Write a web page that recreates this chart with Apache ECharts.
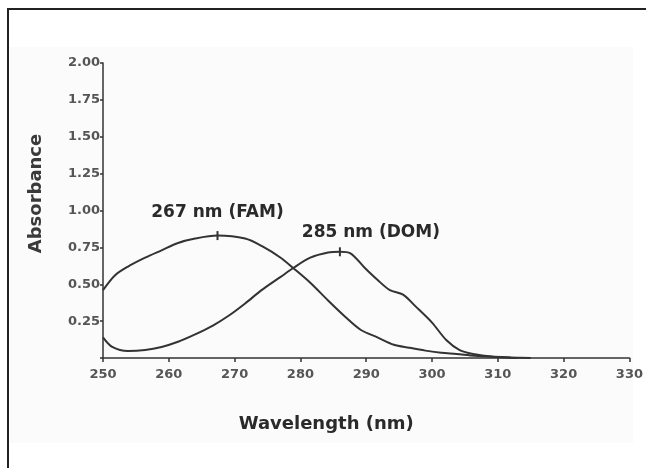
<!DOCTYPE html>
<html><head><meta charset="utf-8">
<script src="https://cdn.jsdelivr.net/npm/echarts@6/dist/echarts.min.js"></script>
<style>html,body{margin:0;padding:0;background:#fff}#c{width:646px;height:468px}</style>
</head><body><div id="c"></div>
<script>
// Wavelength (nm) and absorbance values
const famWavelength = [250, 251.8, 253.8, 256.4, 258.9, 261.4, 264.0, 267.4, 271.6, 274.1, 277.0, 278.9, 281.5, 284.2, 286.8, 289.2, 291.7, 294.2, 296.5, 299.0, 301.4, 303.7, 306.5, 310, 313];
const famAbsorbance = [0.46, 0.56, 0.62, 0.68, 0.73, 0.78, 0.81, 0.83, 0.81, 0.76, 0.68, 0.61, 0.51, 0.39, 0.28, 0.19, 0.14, 0.09, 0.07, 0.05, 0.035, 0.027, 0.015, 0.006, 0.0];
const domWavelength = [250, 251.4, 253.8, 256.4, 258.9, 261.4, 264.0, 266.7, 269.2, 271.6, 274.1, 277.0, 278.9, 281.5, 284.2, 286.0, 287.6, 289.8, 291.7, 293.6, 295.6, 297.5, 300.0, 302.2, 304.2, 306.5, 309, 312, 315];
const domAbsorbance = [0.14, 0.075, 0.047, 0.054, 0.075, 0.11, 0.16, 0.22, 0.29, 0.37, 0.46, 0.55, 0.61, 0.68, 0.715, 0.72, 0.71, 0.61, 0.53, 0.46, 0.43, 0.35, 0.24, 0.12, 0.054, 0.025, 0.01, 0.004, 0.0];
const peakWavelength = [267.4, 286.0];
const peakAbsorbance = [0.83, 0.72];
const peakLabels = ['267 nm (FAM)', '285 nm (DOM)'];
const xTicks = [250, 260, 270, 280, 290, 300, 310, 320, 330];
const yTicks = [0.25, 0.50, 0.75, 1.00, 1.25, 1.50, 1.75, 2.00];

const pair = (xs, ys) => xs.map((x, i) => [x, ys[i]]);
const chart = echarts.init(document.getElementById('c'), null, {renderer: 'canvas'});
const font = '"DejaVu Sans", "Liberation Sans", Arial, sans-serif';
const ink = '#333';

chart.setOption({
  animation: false,
  backgroundColor: '#fff',
  graphic: [
    {type: 'rect', z: -10, shape: {x: 10, y: 47, width: 623, height: 396}, style: {fill: '#fbfbfb'}},
    {type: 'polyline', z: 10, shape: {points: [[8, 470], [8, 9], [650, 9]]}, style: {stroke: '#222', lineWidth: 2, fill: null}}
  ],
  grid: {left: 103, right: 16, top: 63, bottom: 110},
  xAxis: {
    type: 'value', min: xTicks[0], max: xTicks[xTicks.length - 1], interval: 10,
    name: 'Wavelength (nm)', nameLocation: 'middle', nameGap: 57,
    nameTextStyle: {fontFamily: font, fontWeight: 'bold', fontSize: 18, color: '#2a2a2a', padding: [0, 80, 0, 0]},
    axisLine: {lineStyle: {color: ink, width: 1.5}},
    axisTick: {show: true, length: 4, inside: false, lineStyle: {color: ink, width: 1.5}},
    axisLabel: {margin: 10, fontFamily: font, fontWeight: 'bold', fontSize: 13, color: '#555',
      formatter: v => xTicks.includes(v) ? String(v) : ''},
    splitLine: {show: false}
  },
  yAxis: {
    type: 'value', min: 0, max: 2, interval: 0.25,
    name: 'Absorbance', nameLocation: 'middle', nameGap: 58,
    nameTextStyle: {fontFamily: font, fontWeight: 'bold', fontSize: 18, color: '#3a3a3a', padding: [0, 0, 0, 34]},
    axisLine: {show: true, lineStyle: {color: ink, width: 1.5}},
    axisTick: {show: true, length: 3, lineStyle: {color: ink, width: 1.5}},
    axisLabel: {margin: 3, fontFamily: font, fontWeight: 'bold', fontSize: 13, color: '#555',
      formatter: v => yTicks.some(t => Math.abs(t - v) < 1e-9) ? v.toFixed(2) : ''},
    splitLine: {show: false}
  },
  series: [
    {name: 'FAM', type: 'line', data: pair(famWavelength, famAbsorbance), smooth: 0.3, showSymbol: false,
      lineStyle: {color: ink, width: 2}},
    {name: 'DOM', type: 'line', data: pair(domWavelength, domAbsorbance), smooth: 0.3, showSymbol: false,
      lineStyle: {color: ink, width: 2}},
    {name: 'peaks', type: 'scatter', symbol: 'rect', symbolSize: [2, 9],
      itemStyle: {color: ink, opacity: 1},
      data: pair(peakWavelength, peakAbsorbance).map((p, i) => ({
        value: p,
        label: {show: true, formatter: peakLabels[i], position: 'inside',
          offset: i === 0 ? [0, -23] : [31, -19],
          fontFamily: font, fontWeight: 'bold', fontSize: 17, color: '#2a2a2a', opacity: 1}
      }))}
  ]
});
</script></body></html>
